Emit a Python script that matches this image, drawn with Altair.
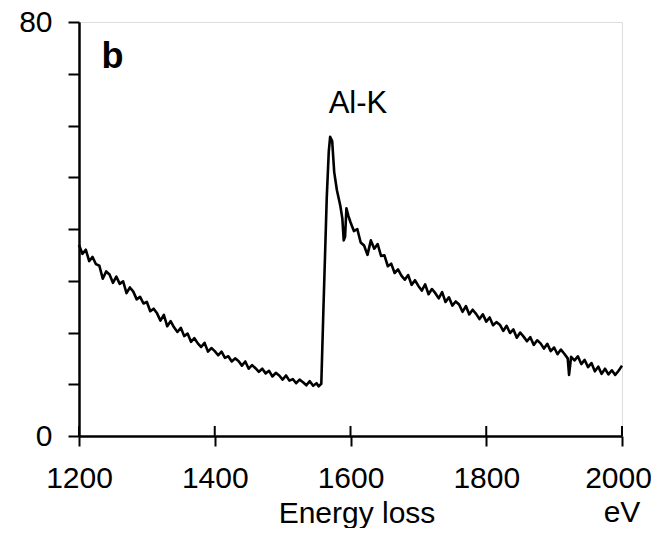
import altair as alt
import pandas as pd

energy = [1200, 1205, 1210, 1215, 1220, 1225, 1230, 1235, 1240, 1245, 1250, 1255, 1260, 1265,
          1270, 1275, 1280, 1285, 1290, 1295, 1300, 1305, 1310, 1315, 1320, 1325, 1330, 1335,
          1340, 1345, 1350, 1355, 1360, 1365, 1370, 1375, 1380, 1385, 1390, 1395, 1400, 1405,
          1410, 1415, 1420, 1425, 1430, 1435, 1440, 1445, 1450, 1455, 1460, 1465, 1470, 1475,
          1480, 1485, 1490, 1495, 1500, 1505, 1510, 1515, 1520, 1525, 1530, 1535, 1540, 1545,
          1550, 1553, 1557, 1560, 1565, 1568, 1570, 1573, 1576, 1580, 1585, 1588, 1590, 1592,
          1594, 1597, 1600, 1605, 1610, 1615, 1620, 1625, 1630, 1635, 1640, 1645, 1650, 1655,
          1660, 1665, 1670, 1675, 1680, 1685, 1690, 1695, 1700, 1705, 1710, 1715, 1720, 1725,
          1730, 1735, 1740, 1745, 1750, 1755, 1760, 1765, 1770, 1775, 1780, 1785, 1790, 1795,
          1800, 1805, 1810, 1815, 1820, 1825, 1830, 1835, 1840, 1845, 1850, 1855, 1860, 1865,
          1870, 1875, 1880, 1885, 1890, 1895, 1900, 1905, 1910, 1915, 1920, 1922, 1925, 1930,
          1935, 1940, 1945, 1950, 1955, 1960, 1965, 1970, 1975, 1980, 1985, 1990, 1995, 2000]
counts = [36.9, 35.2, 36.0, 33.8, 34.6, 33.2, 32.9, 30.4, 31.8, 31.2, 29.6, 30.8, 29.4, 29.9,
          27.6, 28.7, 27.9, 26.4, 26.9, 25.6, 25.9, 24.1, 24.6, 23.7, 22.3, 23.4, 21.2, 22.2,
          21.0, 20.1, 20.9, 19.3, 19.8, 18.2, 18.9, 17.9, 17.2, 18.0, 16.3, 17.0, 16.4, 15.6,
          16.3, 15.1, 15.4, 14.4, 15.0, 14.5, 13.6, 14.4, 13.0, 13.7, 13.1, 12.4, 13.0, 12.1,
          12.6, 11.5, 12.2, 11.7, 10.9, 11.7, 10.7, 11.0, 10.2, 10.9, 10.4, 9.8, 10.6, 9.7,
          10.2, 9.6, 10.1, 24.0, 46.0, 55.0, 57.8, 57.0, 51.0, 47.5, 44.5, 42.0, 37.8, 38.5,
          44.0, 42.5, 41.3, 39.6, 40.0, 37.4, 36.8, 35.0, 37.8, 36.2, 37.1, 34.8, 34.9, 32.8,
          33.3, 31.5, 32.2, 31.0, 30.2, 31.1, 29.2, 30.1, 29.0, 28.1, 29.3, 27.4, 28.4, 27.6,
          26.6, 27.8, 25.9, 26.8, 25.2, 26.0, 25.4, 24.0, 25.1, 23.5, 24.4, 23.6, 22.6, 23.5,
          22.1, 22.9, 21.4, 22.0, 21.5, 20.3, 21.3, 19.9, 20.6, 19.0, 20.0, 19.2, 18.3, 19.1,
          17.6, 18.5, 17.9, 16.9, 17.8, 16.4, 17.1, 15.8, 16.7, 15.9, 15.0, 11.8, 15.3, 14.6,
          15.4, 13.9, 14.7, 13.3, 14.1, 12.5, 13.4, 12.0, 13.0, 11.9, 12.7, 11.8, 12.6, 13.6]

x_ticks = [1200, 1400, 1600, 1800, 2000]
y_ticks = [0, 10, 20, 30, 40, 50, 60, 70, 80]

FONT = "Liberation Sans"
W, H = 543, 414
TITLE_Y = 86

spec = pd.DataFrame({"energy": energy, "counts": counts})
ticks_df = pd.DataFrame({"energy": x_ticks})
labels_df = pd.DataFrame({
    "energy": [1611, 1233],
    "counts": [62.4, 71.1],
    "text": ["Al-K", "b"],
})

xscale = alt.Scale(domain=[1200, 2000], nice=False, zero=False)
yscale = alt.Scale(domain=[0, 80], nice=False, zero=False)

xaxis = alt.Axis(values=x_ticks, format="d", tickSize=10, tickWidth=2, tickColor="black",
                 domainWidth=2.5, domainColor="black", labelFontSize=30, labelFont=FONT,
                 labelColor="black", labelPadding=17, grid=False, title="Energy loss",
                 labelOffset={"condition": {"test": "datum.value == 2000", "value": -4},
                              "value": 0},
                 titleFont=FONT, titleFontSize=30, titleFontWeight="normal",
                 titleColor="black", titleX=277.5, titleY=TITLE_Y, titleBaseline="alphabetic",
                 titleAlign="center", labelFlush=False)
yaxis = alt.Axis(values=y_ticks, format="d", tickSize=11, tickWidth=2, tickColor="black",
                 domainWidth=2.5, domainColor="black", labelFontSize=30, labelFont=FONT,
                 labelColor="black", labelPadding=16, grid=False, title=None,
                 labelExpr="datum.value == 0 || datum.value == 80 ? datum.label : ''",
                 labelFlush=False)

line = alt.Chart(spec).mark_line(color="black", strokeWidth=2.6, strokeJoin="round").encode(
    x=alt.X("energy:Q", scale=xscale, axis=xaxis),
    y=alt.Y("counts:Q", scale=yscale, axis=yaxis),
)

inner_ticks = alt.Chart(ticks_df).mark_rule(color="black", strokeWidth=2).encode(
    x=alt.X("energy:Q", scale=xscale),
    y=alt.value(H),
    y2=alt.value(H - 10),
)

al_k = alt.Chart(labels_df.iloc[[0]]).mark_text(
    font=FONT, fontSize=31, color="black", align="center", baseline="alphabetic"
).encode(
    x=alt.X("energy:Q", scale=xscale),
    y=alt.Y("counts:Q", scale=yscale),
    text="text:N",
)

b_label = alt.Chart(labels_df.iloc[[1]]).mark_text(
    font=FONT, fontSize=36, fontWeight="bold", color="black", align="left",
    baseline="alphabetic"
).encode(
    x=alt.X("energy:Q", scale=xscale),
    y=alt.Y("counts:Q", scale=yscale),
    text="text:N",
)

ev = alt.Chart(ticks_df.iloc[[-1]]).mark_text(
    font=FONT, fontSize=30, color="black", align="center", baseline="alphabetic",
    text="eV"
).encode(
    x=alt.X("energy:Q", scale=xscale),
    y=alt.value(H + TITLE_Y),
)

chart = alt.layer(line, inner_ticks, al_k, b_label, ev).properties(
    width=W, height=H,
    autosize=alt.AutoSizeParams(type="none"),
    padding={"left": 71, "top": 14, "right": 29, "bottom": 92},
).configure_view(stroke="black", strokeWidth=2.5).configure(background="white")

chart.save("out.html", embed_options={"renderer": "svg", "actions": False})
